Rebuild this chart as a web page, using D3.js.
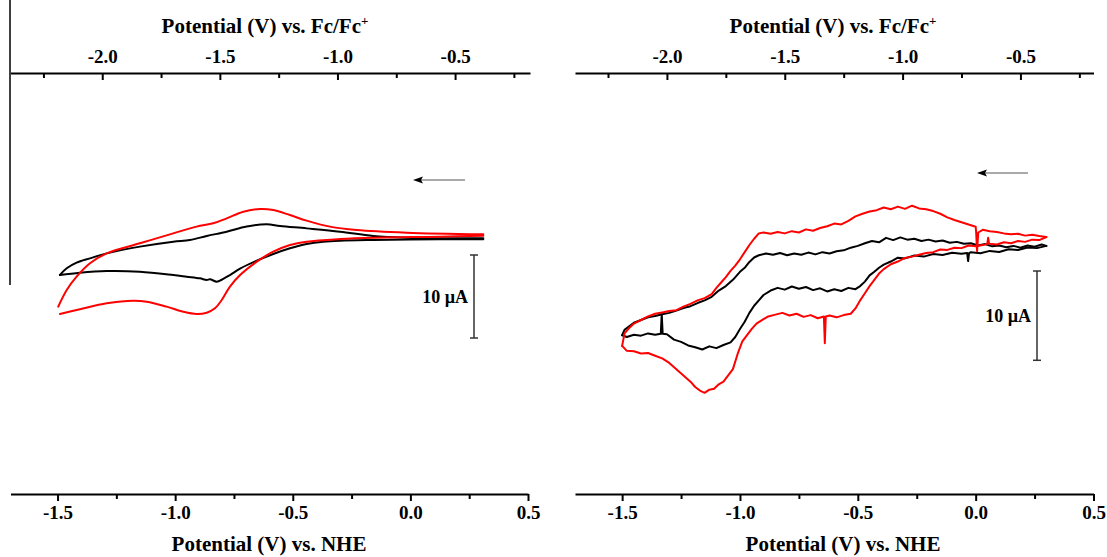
<!DOCTYPE html>
<html><head><meta charset="utf-8">
<script src="https://cdn.jsdelivr.net/npm/d3@7"></script>
<style>
body{margin:0;background:#fff}
svg{display:block}
text{font-family:"Liberation Serif","Times New Roman",serif;font-weight:bold;fill:#000}
</style>
</head><body><svg id="c" width="1107" height="557"></svg>
<script>
// ---- tick labels / axis values ----
const nheTicks = [-1.5, -1.0, -0.5, 0.0, 0.5];
const nheMinor = [-1.25, -0.75, -0.25, 0.25];
const fcTicks = [-2.0, -1.5, -1.0, -0.5];
const fcMinor = [-2.25, -1.75, -1.25, -0.75, -0.25];
const fcOffset = 0.69;           // E(Fc/Fc+) = E(NHE) - 0.69
const scaleBarUA = 10;

// ---- left panel: potential (V vs NHE), current (uA); forward (cathodic) and reverse branches ----
const leftBlackFwdE = [0.310,0.126,-0.158,-0.299,-0.370,-0.441,-0.512,-0.583,-0.653,-0.724,-0.767,-0.810,-0.824,-0.852,-0.866,-0.895,-0.951,-1.008,-1.150,-1.291,-1.405,-1.490];
const leftBlackFwdI = [-0.16,-0.16,-0.24,-0.32,-0.44,-0.72,-1.24,-1.93,-2.73,-3.69,-4.46,-5.14,-5.26,-4.98,-5.06,-4.86,-4.66,-4.46,-4.06,-3.98,-4.18,-4.46];
const leftBlackRevE = [-1.490,-1.461,-1.419,-1.362,-1.291,-1.150,-1.008,-0.937,-0.866,-0.781,-0.696,-0.611,-0.554,-0.441,-0.299,-0.158,-0.016,0.310];
const leftBlackRevI = [-4.46,-3.65,-2.97,-2.45,-1.85,-1.04,-0.44,-0.24,0.24,0.76,1.38,1.65,1.45,1.16,0.76,0.24,0.04,-0.04];
const leftRedFwdE = [0.310,0.126,-0.158,-0.299,-0.441,-0.512,-0.583,-0.653,-0.724,-0.767,-0.802,-0.831,-0.866,-0.909,-0.966,-1.036,-1.121,-1.178,-1.291,-1.405,-1.490];
const leftRedFwdI = [0.28,0.16,0.04,-0.12,-0.44,-0.84,-1.65,-2.85,-4.46,-5.86,-7.47,-8.47,-9.00,-9.16,-8.88,-8.27,-7.67,-7.55,-7.87,-8.59,-9.16];
const leftRedRevE = [-1.497,-1.461,-1.419,-1.362,-1.291,-1.150,-1.008,-0.909,-0.838,-0.781,-0.710,-0.639,-0.583,-0.512,-0.441,-0.342,-0.228,-0.016,0.310];
const leftRedRevI = [-8.27,-6.27,-4.66,-3.05,-1.85,-0.64,0.56,1.37,1.77,2.37,3.17,3.49,3.37,2.77,2.09,1.37,0.96,0.64,0.44];

// ---- right panel ----
const rightBlackFwdE = [0.30,0.26,0.22,0.18,0.14,0.10,0.06,0.02,-0.02,-0.028,-0.032,-0.036,-0.06,-0.10,-0.14,-0.18,-0.22,-0.26,-0.30,-0.33,-0.36,-0.39,-0.41,-0.43,-0.45,-0.47,-0.49,-0.51,-0.54,-0.57,-0.60,-0.63,-0.66,-0.69,-0.72,-0.75,-0.78,-0.81,-0.84,-0.87,-0.90,-0.92,-0.94,-0.96,-0.98,-1.00,-1.02,-1.04,-1.07,-1.10,-1.13,-1.16,-1.19,-1.22,-1.25,-1.28,-1.31,-1.328,-1.332,-1.336,-1.36,-1.39,-1.42,-1.45,-1.48,-1.50];
const rightBlackFwdI = [-0.10,-0.35,-0.28,-0.55,-0.48,-0.78,-0.66,-0.92,-0.80,-0.90,-1.80,-0.90,-0.98,-0.86,-1.12,-1.00,-1.30,-1.18,-1.50,-1.42,-1.85,-2.20,-2.55,-3.00,-3.40,-4.10,-4.60,-4.95,-4.80,-5.15,-4.95,-5.20,-4.85,-5.05,-4.70,-4.90,-4.65,-5.00,-4.80,-5.10,-5.60,-6.20,-6.80,-7.60,-8.60,-9.40,-10.30,-10.90,-11.20,-11.55,-11.35,-11.70,-11.45,-11.25,-10.85,-10.60,-10.00,-9.95,-7.75,-9.95,-10.05,-9.90,-10.15,-10.05,-10.30,-10.10];
const rightBlackRevE = [-1.50,-1.49,-1.47,-1.45,-1.42,-1.39,-1.36,-1.33,-1.30,-1.27,-1.24,-1.21,-1.18,-1.15,-1.12,-1.09,-1.06,-1.03,-1.00,-0.98,-0.96,-0.94,-0.92,-0.89,-0.86,-0.83,-0.80,-0.77,-0.74,-0.71,-0.68,-0.65,-0.62,-0.59,-0.56,-0.53,-0.50,-0.47,-0.44,-0.41,-0.38,-0.35,-0.32,-0.29,-0.26,-0.23,-0.20,-0.17,-0.14,-0.11,-0.08,-0.05,-0.02,0.01,0.04,0.07,0.10,0.13,0.16,0.19,0.22,0.25,0.28,0.30];
const rightBlackRevI = [-10.10,-9.50,-9.10,-8.70,-8.40,-8.10,-7.95,-7.75,-7.60,-7.35,-7.05,-6.85,-6.50,-6.20,-5.80,-5.10,-4.60,-3.90,-3.00,-2.55,-1.90,-1.40,-1.15,-0.95,-1.10,-0.90,-1.15,-0.95,-1.10,-0.85,-1.05,-0.80,-0.95,-0.70,-0.60,-0.30,-0.10,0.20,0.45,0.30,0.80,0.55,0.85,0.60,0.70,0.45,0.60,0.40,0.50,0.25,0.35,0.15,0.20,-0.05,0.10,-0.15,-0.05,-0.25,-0.10,-0.30,-0.05,-0.20,0.05,-0.10];
const rightRedFwdE = [0.30,0.27,0.24,0.21,0.18,0.15,0.12,0.09,0.057,0.053,0.049,0.03,0.00,-0.03,-0.06,-0.09,-0.12,-0.15,-0.18,-0.21,-0.24,-0.27,-0.30,-0.33,-0.36,-0.39,-0.41,-0.43,-0.45,-0.47,-0.49,-0.51,-0.53,-0.56,-0.59,-0.62,-0.636,-0.640,-0.644,-0.67,-0.70,-0.73,-0.76,-0.79,-0.82,-0.85,-0.88,-0.90,-0.93,-0.95,-0.97,-0.99,-1.01,-1.03,-1.05,-1.07,-1.09,-1.11,-1.13,-1.15,-1.17,-1.19,-1.21,-1.24,-1.27,-1.30,-1.33,-1.36,-1.39,-1.42,-1.45,-1.48,-1.50];
const rightRedFwdI = [0.90,0.55,0.60,0.35,0.45,0.20,0.30,0.05,0.15,0.80,0.10,0.00,-0.15,-0.05,-0.35,-0.30,-0.55,-0.50,-0.80,-0.90,-1.10,-1.30,-1.45,-1.85,-2.15,-2.70,-3.20,-3.90,-4.60,-5.40,-6.20,-7.10,-7.70,-7.85,-8.10,-7.90,-8.00,-11.00,-8.00,-8.20,-7.85,-8.05,-7.70,-7.90,-7.60,-7.80,-8.00,-8.30,-8.80,-9.40,-10.10,-10.80,-12.20,-13.90,-14.60,-15.30,-15.60,-16.10,-16.20,-16.55,-16.30,-15.90,-15.30,-14.60,-13.90,-13.20,-12.70,-12.40,-12.10,-12.15,-11.90,-11.85,-11.30];
const rightRedRevE = [-1.50,-1.49,-1.47,-1.45,-1.42,-1.39,-1.36,-1.33,-1.30,-1.27,-1.24,-1.21,-1.18,-1.15,-1.12,-1.10,-1.08,-1.06,-1.04,-1.02,-1.00,-0.98,-0.96,-0.94,-0.92,-0.90,-0.87,-0.84,-0.81,-0.78,-0.75,-0.72,-0.69,-0.66,-0.63,-0.60,-0.57,-0.54,-0.51,-0.48,-0.45,-0.42,-0.39,-0.36,-0.33,-0.30,-0.27,-0.24,-0.21,-0.18,-0.15,-0.12,-0.09,-0.06,-0.03,0.000,0.002,0.006,0.011,0.03,0.06,0.09,0.12,0.15,0.18,0.21,0.24,0.27,0.30];
const rightRedRevI = [-11.30,-9.90,-9.30,-8.80,-8.40,-8.00,-7.70,-7.55,-7.40,-7.30,-6.90,-6.60,-6.20,-5.95,-5.50,-4.80,-4.20,-3.60,-2.90,-2.30,-1.60,-0.80,0.00,0.70,1.30,1.40,1.25,1.45,1.30,1.55,1.40,1.75,1.60,1.90,2.10,2.40,2.30,2.70,3.20,3.50,3.75,3.90,4.20,4.00,4.30,4.05,4.40,4.10,4.00,3.80,3.50,3.10,2.80,2.55,2.30,2.05,1.45,-0.70,1.40,1.70,1.55,1.45,1.30,1.20,1.25,1.05,1.15,1.00,0.90];

const svg = d3.select("#c");

const panels = [
  {x0:10.5, x1:528, topExtra:2, yTop:73, yBot:494, zeroY:238, pxUA:8.3, smooth:true,
   titleTopX:265, titleBotX:269, barX:474, barTop:255, arrowY:180, arrowX1:465, arrowX2:413,
   series:[{e:leftBlackFwdE,i:leftBlackFwdI,c:"#000"},{e:leftBlackRevE,i:leftBlackRevI,c:"#000"},
           {e:leftRedFwdE,i:leftRedFwdI,c:"#ff0000"},{e:leftRedRevE,i:leftRedRevI,c:"#ff0000"}], leftLine:true},
  {x0:575, x1:1093.5, topExtra:0, yTop:73, yBot:494, zeroY:245, pxUA:8.93, smooth:false,
   titleTopX:833, titleBotX:843, barX:1037, barTop:271, arrowY:173, arrowX1:1028, arrowX2:977,
   series:[{e:rightBlackFwdE,i:rightBlackFwdI,c:"#000"},{e:rightBlackRevE,i:rightBlackRevI,c:"#000"},
           {e:rightRedFwdE,i:rightRedFwdI,c:"#ff0000"},{e:rightRedRevE,i:rightRedRevI,c:"#ff0000"}], leftLine:false}
];

panels.forEach(p => {
  const g = svg.append("g");
  const x = d3.scaleLinear().domain([-1.7, 0.5]).range([p.x0, p.x1]);
  const xTop = d3.scaleLinear()
      .domain([-1.7 - fcOffset, 0.5 - fcOffset + p.topExtra / (x(1) - x(0))])
      .range([p.x0, p.x1 + p.topExtra]);
  const y = d3.scaleLinear().domain([0, 10]).range([p.zeroY, p.zeroY - 10 * p.pxUA]);

  // bottom axis
  g.append("g").attr("transform", `translate(0,${p.yBot})`)
    .call(d3.axisBottom(x).tickValues(nheTicks).tickSize(7).tickSizeOuter(0).tickPadding(5).tickFormat(d3.format(".1f")));
  g.append("g").attr("transform", `translate(0,${p.yBot})`)
    .call(d3.axisBottom(x).tickValues(nheMinor).tickSize(5).tickSizeOuter(0).tickFormat(""))
    .select(".domain").remove();
  // top axis (ticks pointing down)
  g.append("g").attr("transform", `translate(0,${p.yTop})`)
    .call(d3.axisTop(xTop).tickValues(fcTicks).tickSize(-7).tickSizeOuter(0).tickPadding(10).tickFormat(d3.format(".1f")));
  g.append("g").attr("transform", `translate(0,${p.yTop})`)
    .call(d3.axisTop(xTop).tickValues(fcMinor).tickSize(-5).tickSizeOuter(0).tickFormat(""))
    .select(".domain").remove();
  g.selectAll(".domain, .tick line").attr("stroke", "#000").attr("stroke-width", 2);
  g.selectAll(".tick text").attr("font-size", 19).attr("font-family", "Liberation Serif").attr("font-weight", "bold").attr("fill","#000");
  g.selectAll(".tick text").text(function(){ return this.textContent.replace("\u2212", "-"); });

  // titles
  const t1 = g.append("text").attr("x", p.titleTopX).attr("y", 33).attr("text-anchor", "middle").attr("font-size", 21)
    .text("Potential (V) vs. Fc/Fc");
  t1.append("tspan").attr("dy", -8).attr("font-size", 13).text("+");
  g.append("text").attr("x", p.titleBotX).attr("y", 551).attr("text-anchor", "middle").attr("font-size", 21)
    .text("Potential (V) vs. NHE");

  if (p.leftLine) {
    g.append("line").attr("x1", 10).attr("x2", 10).attr("y1", 0).attr("y2", 285).attr("stroke", "#000").attr("stroke-width", 1.5);
  }

  // curves
  const line = d3.line().x(d => x(d[0])).y(d => y(d[1]))
    .curve(p.smooth ? d3.curveCatmullRom.alpha(0.5) : d3.curveLinear);
  p.series.forEach(s => {
    const pts = s.e.map((e, k) => [e, s.i[k]]);
    g.append("path").datum(pts).attr("d", line).attr("fill", "none")
      .attr("stroke", s.c).attr("stroke-width", 2).attr("stroke-linejoin", "round").attr("stroke-linecap", "round");
  });

  // scale bar (10 uA)
  const h = y(0) - y(scaleBarUA);
  const sb = g.append("g").attr("stroke", "#333").attr("stroke-width", 1.5);
  sb.append("line").attr("x1", p.barX).attr("x2", p.barX).attr("y1", p.barTop).attr("y2", p.barTop + h);
  sb.append("line").attr("x1", p.barX - 4).attr("x2", p.barX + 4).attr("y1", p.barTop).attr("y2", p.barTop);
  sb.append("line").attr("x1", p.barX - 4).attr("x2", p.barX + 4).attr("y1", p.barTop + h).attr("y2", p.barTop + h);
  g.append("text").attr("x", p.barX - 6).attr("y", p.barTop + h / 2 + 6).attr("text-anchor", "end").attr("font-size", 18)
    .text(scaleBarUA + " \u00b5A");

  // scan direction arrow
  g.append("line").attr("x1", p.arrowX1).attr("x2", p.arrowX2 + 7).attr("y1", p.arrowY).attr("y2", p.arrowY)
    .attr("stroke", "#555").attr("stroke-width", 1);
  g.append("path").attr("d", `M${p.arrowX2},${p.arrowY} L${p.arrowX2 + 10},${p.arrowY - 3.5} L${p.arrowX2 + 8},${p.arrowY} L${p.arrowX2 + 10},${p.arrowY + 3.5} Z`)
    .attr("fill", "#000");
});
</script>
</body></html>
